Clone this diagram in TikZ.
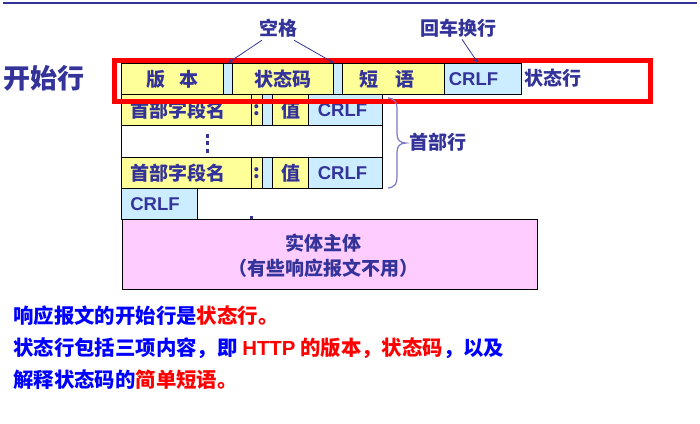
\documentclass[tikz,border=0pt]{standalone}
\usepackage{fontspec}
\setmainfont{Liberation Sans}
\newfontfamily\cjk{Noto Sans CJK SC}
\newfontfamily\lat{Liberation Sans}
\usetikzlibrary{arrows.meta}
\definecolor{navy}{HTML}{333399}
\definecolor{cellyellow}{HTML}{FFFF99}
\definecolor{cellblue}{HTML}{CCECFF}
\definecolor{pinkfill}{HTML}{FFCCFF}
\definecolor{bracecol}{HTML}{7A7AC2}
\definecolor{pureblue}{HTML}{0000FF}
\definecolor{purered}{HTML}{FF0000}
\newcommand\mycellfont{\cjk\bfseries\fontsize{19}{19}\selectfont}
\newcommand\mycrlffont{\lat\bfseries\fontsize{18.5}{18.5}\selectfont}
\newcommand\mybigfont{\cjk\bfseries\fontsize{27}{27}\selectfont}
\newcommand\mytextfont{\cjk\bfseries\fontsize{20.4}{20.4}\selectfont}
\begin{document}
\begin{tikzpicture}[x=1pt,y=-1pt,
  cellbase/.style={draw=black, line width=1pt, anchor=north west, inner sep=0pt, minimum height=31pt, font=\mycellfont, text=navy},
  ycell/.style={cellbase, fill=cellyellow},
  bcell/.style={cellbase, fill=cellblue},
  crlfcell/.style={cellbase, fill=cellblue, font=\mycrlffont},
  lbl/.style={inner sep=0pt, text=navy, font=\mycellfont},
  ptr/.style={draw=navy, line width=0.8pt, -{Stealth[length=5pt,width=4pt]}},
  para/.style={anchor=west, inner sep=0pt, font=\mytextfont, text=pureblue}]
\useasboundingbox (0,0) rectangle (700,423);
% top rule
\draw[navy, line width=2pt] (3,3) -- (697,3);

% status line cells
\node[ycell, minimum width=102pt] (ver) at (121,63) {版\hspace{0.75em}本};
\node[bcell, minimum width=9pt] (gap1) at (223,63) {};
\node[ycell, minimum width=101pt] (code) at (232,63) {状态码};
\node[bcell, minimum width=9pt] (gap2) at (333,63) {};
\node[ycell, minimum width=102pt] (phrase) at (342,63) {短\hspace{0.9em}语\hspace*{13pt}};
\node[crlfcell, minimum width=77pt] (crlf1) at (444,63) {CRLF\hspace*{19pt}};

% header block outline
\node[cellbase, minimum width=261pt, minimum height=94pt, fill=white] (hdr) at (121,94) {};
% header row 1
\node[ycell, minimum width=130pt] (hname1) at (121,94) {首部字段名\hspace*{17pt}};
\node[ycell, minimum width=11pt] (colon1) at (251,94) {:};
\node[bcell, minimum width=10pt] (hgap1) at (262,94) {};
\node[ycell, minimum width=36pt] (val1) at (272,94) {值};
\node[crlfcell, minimum width=74pt] (hcrlf1) at (308,94) {CRLF\hspace*{6pt}};
% header row 2
\node[ycell, minimum width=130pt] (hname2) at (121,157) {首部字段名\hspace*{17pt}};
\node[ycell, minimum width=11pt] (colon2) at (251,157) {:};
\node[bcell, minimum width=10pt] (hgap2) at (262,157) {};
\node[ycell, minimum width=36pt] (val2) at (272,157) {值};
\node[crlfcell, minimum width=74pt] (hcrlf2) at (308,157) {CRLF\hspace*{6pt}};
% vertical ellipsis
\fill[navy] (205.5,134) rectangle (208.8,138);
\fill[navy] (205.5,141) rectangle (208.8,145);
\fill[navy] (205.5,148.5) rectangle (208.8,152.5);

% empty line CRLF
\node[crlfcell, minimum width=76pt] (crlf3) at (121,188) {CRLF\hspace*{9pt}};
\fill[navy] (250,215.5) rectangle (252.8,219);

% entity body
\node[cellbase, fill=pinkfill, minimum width=415pt, minimum height=70pt] (body) at (121.5,219) {};
\node[lbl, align=center, font={\mycellfont\baselineskip=25pt}] (bodytxt) at (323,256) {实体主体\\（有些响应报文不用）};

% red start-line frame
\node[draw=purered, line width=5pt, anchor=north west, inner sep=0pt, minimum width=536.5pt, minimum height=41pt] (startbox) at (111.5,58) {};

% labels
\node[inner sep=0pt, text=navy, font=\mybigfont] (kaishi) at (44,78) {开始行};
\node[lbl] (kongge) at (278,28) {空格};
\node[lbl] (huiche) at (458,28) {回车换行};
\node[lbl] (zhuangtai) at (553,78) {状态行};
\node[lbl] (shoubu) at (438,142) {首部行};

% pointers
\draw[ptr] ([shift={(3,3)}]kongge.south west) -- (gap1.north);
\draw[ptr] ([shift={(-3,3)}]kongge.south east) -- ([xshift=1pt]gap2.north west);
\draw[ptr] ([shift={(4,2)}]huiche.south) -- ([xshift=34pt]crlf1.north west);

% brace
\draw[bracecol, line width=1.2pt] (388,98) .. controls (395,99) and (397,102) .. (397,110) -- (397,134) .. controls (397,140) and (400,143) .. (406,143) .. controls (400,143) and (397,146) .. (397,152) -- (397,177) .. controls (397,184) and (395,187) .. (388,188);

% paragraph
\node[para] (p1) at (13,316) {响应报文的开始行是\textcolor{purered}{状态行。}};
\node[para] (p2) at (13,348) {状态行包括三项内容，即 \textcolor{purered}{{\lat\bfseries HTTP} 的版本，状态码}，以及};
\node[para] (p3) at (13,380) {解释状态码的\textcolor{purered}{简单短语。}};
\end{tikzpicture}
\end{document}
